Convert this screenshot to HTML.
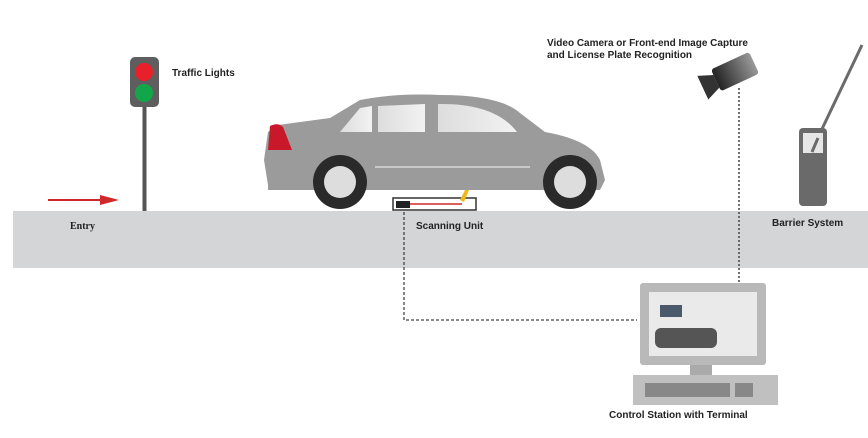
<!DOCTYPE html>
<html><head><style>
body{margin:0;width:868px;height:438px;background:#fff;overflow:hidden;position:relative;font-family:"Liberation Sans",sans-serif}
.t{position:absolute;font-size:10px;font-weight:bold;color:#222;white-space:nowrap}
</style></head><body>
<svg width="868" height="438" style="position:absolute;left:0;top:0">
<defs>
<linearGradient id="cam" x1="0" x2="1"><stop offset="0" stop-color="#222"/><stop offset="1" stop-color="#999"/></linearGradient>
<linearGradient id="gl" x1="0" x2="1"><stop offset="0" stop-color="#ddd"/><stop offset="1" stop-color="#f2f2f2"/></linearGradient>
</defs>
<rect x="13" y="211" width="855" height="57" fill="#d3d5d7"/>
<!-- traffic light -->
<rect x="142.5" y="100" width="4" height="111" fill="#555"/>
<rect x="130" y="57" width="29" height="50" rx="5" fill="#5e5e5e"/>
<circle cx="144" cy="72" r="9" fill="#e8202a"/>
<circle cx="144" cy="93" r="9" fill="#12a64a"/>
<!-- arrow -->
<line x1="48" y1="200" x2="105" y2="200" stroke="#d0282a" stroke-width="2"/>
<polygon points="100,195 119,200 100,205" fill="#d0282a"/>
<!-- car -->
<path d="M268,185 L264,160 L268,132 L278,125 L330,118 L360,100 Q395,93 440,95 Q500,95 520,113 L545,132 Q590,140 600,160 L605,180 L600,190 L268,190 Z" fill="#9b9b9b"/>
<path d="M340,132 L360,108 L372,106 L372,132 Z" fill="url(#gl)"/>
<path d="M378,106 L425,104 L425,132 L378,132 Z" fill="url(#gl)"/>
<path d="M438,104 Q495,103 517,132 L438,132 Z" fill="url(#gl)"/>
<path d="M270,126 Q278,122 283,127 L292,150 L268,150 Z" fill="#c8182a"/>
<line x1="375" y1="167" x2="530" y2="167" stroke="#c8c8c8" stroke-width="2"/>
<circle cx="340" cy="182" r="27" fill="#2a2a2a"/><circle cx="340" cy="182" r="16" fill="#ddd"/>
<circle cx="570" cy="182" r="27" fill="#2a2a2a"/><circle cx="570" cy="182" r="16" fill="#ddd"/>
<!-- scanning unit -->
<rect x="393" y="198" width="83" height="12" fill="#fff" stroke="#333" stroke-width="1.5"/>
<rect x="396" y="201" width="14" height="7" fill="#222"/>
<line x1="410" y1="204" x2="462" y2="204" stroke="#d0282a" stroke-width="1.5"/>
<polygon points="460,200 465,190 469,190 464,202" fill="#f2b81a"/>
<!-- dashed lines -->
<polyline points="404,212 404,320 637,320" fill="none" stroke="#444" stroke-width="1.3" stroke-dasharray="3,2"/>
<line x1="739" y1="88" x2="739" y2="285" stroke="#444" stroke-width="1.5" stroke-dasharray="2,2"/>
<!-- camera -->
<g transform="rotate(-25 730 75)"><rect x="715" y="62" width="42" height="24" rx="3" fill="url(#cam)"/><polygon points="715,68 700,62 700,88 715,82" fill="#333"/></g>
<!-- barrier -->
<line x1="812" y1="150" x2="862" y2="45" stroke="#6b6b6b" stroke-width="3"/>
<rect x="799" y="128" width="28" height="78" rx="4" fill="#6a6a6a"/>
<rect x="803" y="133" width="20" height="20" fill="#e6e6e6"/>
<line x1="812" y1="152" x2="818" y2="138" stroke="#6a6a6a" stroke-width="3"/>
<!-- monitor -->
<rect x="640" y="283" width="126" height="82" rx="3" fill="#b9b9b9"/>
<rect x="649" y="292" width="108" height="64" fill="#eaeaea"/>
<rect x="660" y="305" width="22" height="12" fill="#4a5a6a"/>
<rect x="655" y="328" width="62" height="20" rx="6" fill="#555"/>
<rect x="690" y="365" width="22" height="12" fill="#aaa"/>
<rect x="633" y="375" width="145" height="30" fill="#c0c0c0"/>
<rect x="645" y="383" width="85" height="14" fill="#888"/>
<rect x="735" y="383" width="18" height="14" fill="#888"/>
</svg>
<div class="t" style="left:172px;top:68px">Traffic Lights</div>
<div class="t" style="left:70px;top:221px;font-family:'Liberation Serif',serif;font-size:10px">Entry</div>
<div class="t" style="left:416px;top:221px">Scanning Unit</div>
<div class="t" style="left:547px;top:38px;line-height:12px">Video Camera or Front-end Image Capture<br>and License Plate Recognition</div>
<div class="t" style="left:772px;top:218px">Barrier System</div>
<div class="t" style="left:609px;top:410px">Control Station with Terminal</div>
</body></html>
